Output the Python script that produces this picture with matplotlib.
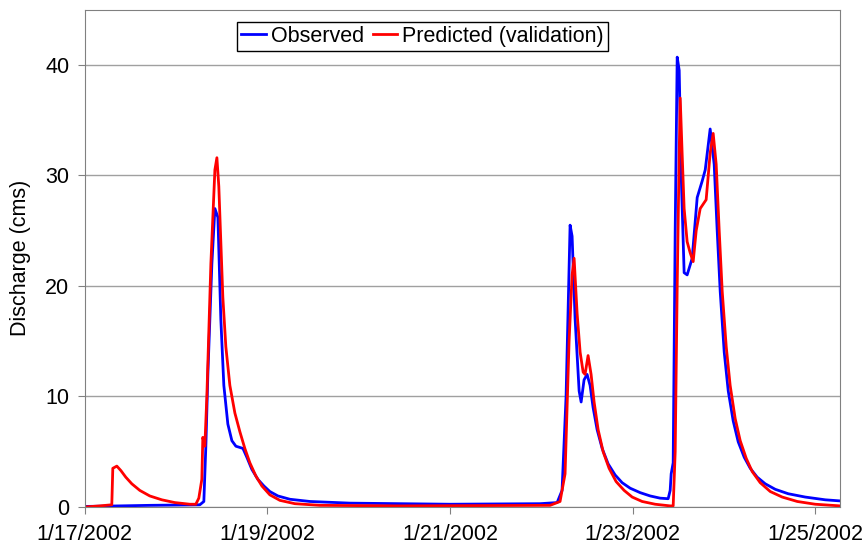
import pandas as pd
import matplotlib.pyplot as plt

plt.rcParams['font.family'] = ['Liberation Sans', 'DejaVu Sans']

start = pd.Timestamp("2002-01-17")

# observed discharge (days since 1/17/2002, cms)
obs_days = [0.000, 0.380, 0.710, 1.260, 1.304, 1.326, 1.348, 1.392, 1.425, 1.458,
            1.490, 1.523, 1.567, 1.611, 1.655, 1.732, 1.775, 1.830, 1.896, 1.962,
            2.027, 2.115, 2.247, 2.466, 2.904, 4.000, 4.986, 5.173, 5.227, 5.271,
            5.315, 5.337, 5.370, 5.414, 5.436, 5.468, 5.501, 5.534, 5.567, 5.611,
            5.666, 5.732, 5.808, 5.885, 5.973, 6.082, 6.192, 6.301, 6.389, 6.411,
            6.422, 6.444, 6.466, 6.488, 6.510, 6.532, 6.564, 6.597, 6.652, 6.707,
            6.762, 6.795, 6.849, 6.893, 6.926, 6.959, 7.003, 7.047, 7.101, 7.156,
            7.222, 7.288, 7.364, 7.452, 7.562, 7.704, 7.890, 8.110, 8.274]
obs_q = [0.05, 0.1, 0.15, 0.2, 0.5, 5.5, 12, 22, 27.0, 26.2,
         17, 11, 7.5, 6, 5.5, 5.3, 4.5, 3.4, 2.5, 1.9,
         1.4, 1.0, 0.7, 0.5, 0.35, 0.25, 0.3, 0.4, 1.5, 10,
         25.5, 24.5, 17, 10.5, 9.5, 11.5, 12.0, 11.0, 9, 7,
         5.3, 3.9, 2.9, 2.2, 1.7, 1.3, 1.0, 0.8, 0.75, 1.5,
         3.0, 4.0, 25, 40.7, 39.5, 30, 21.2, 21, 22.5, 28,
         29.5, 30.5, 34.2, 31, 25, 19.5, 14, 10.5, 7.8, 5.9,
         4.5, 3.5, 2.7, 2.1, 1.6, 1.2, 0.9, 0.65, 0.55]

# predicted discharge (validation)
pred_days = [0.000, 0.164, 0.296, 0.307, 0.351, 0.395, 0.449, 0.515, 0.603, 0.712,
             0.844, 0.986, 1.151, 1.216, 1.249, 1.282, 1.293, 1.315, 1.337, 1.381,
             1.425, 1.447, 1.468, 1.490, 1.512, 1.545, 1.589, 1.644, 1.699, 1.753,
             1.808, 1.874, 1.940, 2.027, 2.137, 2.301, 2.575, 3.452, 5.096, 5.205,
             5.260, 5.304, 5.337, 5.359, 5.392, 5.425, 5.458, 5.479, 5.512, 5.545,
             5.578, 5.622, 5.677, 5.742, 5.819, 5.907, 5.995, 6.104, 6.247, 6.411,
             6.444, 6.466, 6.488, 6.510, 6.521, 6.542, 6.564, 6.597, 6.630, 6.663,
             6.696, 6.740, 6.805, 6.849, 6.882, 6.915, 6.948, 6.981, 7.025, 7.068,
             7.123, 7.178, 7.244, 7.310, 7.397, 7.507, 7.638, 7.803, 8.000, 8.274]
pred_q = [0.0, 0.1, 0.2, 3.5, 3.7, 3.3, 2.7, 2.1, 1.5, 1.0,
          0.65, 0.4, 0.25, 0.25, 0.8, 2.5, 6.3, 5.5, 10, 22,
          30.5, 31.6, 29, 24, 19, 14.5, 11, 8.5, 6.8, 5.3,
          4.0, 2.8, 1.9, 1.1, 0.6, 0.3, 0.15, 0.1, 0.15, 0.5,
          3, 15, 21, 22.5, 17.5, 14, 12.2, 12.0, 13.7, 12,
          9.5, 7, 5, 3.5, 2.3, 1.5, 0.9, 0.5, 0.25, 0.1,
          0.1, 5, 20, 32, 37, 32, 27, 24, 23, 22.2,
          25, 27, 27.8, 32, 33.8, 31, 25, 19.5, 14.5, 11,
          8, 6, 4.4, 3.2, 2.2, 1.4, 0.9, 0.5, 0.25, 0.1]

tick_dates = ["2002-01-17", "2002-01-19", "2002-01-21", "2002-01-23", "2002-01-25"]
tick_labels = ["1/17/2002", "1/19/2002", "1/21/2002", "1/23/2002", "1/25/2002"]

obs_t = start + pd.to_timedelta(obs_days, unit="D")
pred_t = start + pd.to_timedelta(pred_days, unit="D")

fig = plt.figure(figsize=(8.65, 5.49), dpi=100)
ax = fig.add_axes([0.098, 0.0765, 0.873, 0.906])

ax.plot(obs_t, obs_q, color="#0000ff", lw=2.0, label="Observed")
ax.plot(pred_t, pred_q, color="#ff0000", lw=2.0, label="Predicted (validation)")

ax.set_xlim(start, start + pd.Timedelta(days=8.27))
ax.set_ylim(0, 45)
ax.set_yticks([0, 10, 20, 30, 40])
ax.set_xticks(pd.to_datetime(tick_dates))
ax.set_xticklabels(tick_labels)
ax.yaxis.grid(True, color="#a0a0a0", lw=1)
ax.set_axisbelow(True)
for s in ax.spines.values():
    s.set_color("#808080")
ax.tick_params(axis="both", colors="#808080", labelcolor="black", labelsize=15.5, length=5)
ax.tick_params(axis="x", pad=7)
ax.tick_params(axis="y", pad=6)
ax.set_ylabel("Discharge (cms)", fontsize=15.5, labelpad=10)

leg = ax.legend(loc="upper left", bbox_to_anchor=(0.201, 0.976), ncol=2, fontsize=15.5,
                fancybox=False, framealpha=1, edgecolor="black", handlelength=1.15,
                handletextpad=0.23, columnspacing=0.42, borderpad=0.2, borderaxespad=0)
leg.get_frame().set_linewidth(1)

fig.savefig("out.png", dpi=100)
